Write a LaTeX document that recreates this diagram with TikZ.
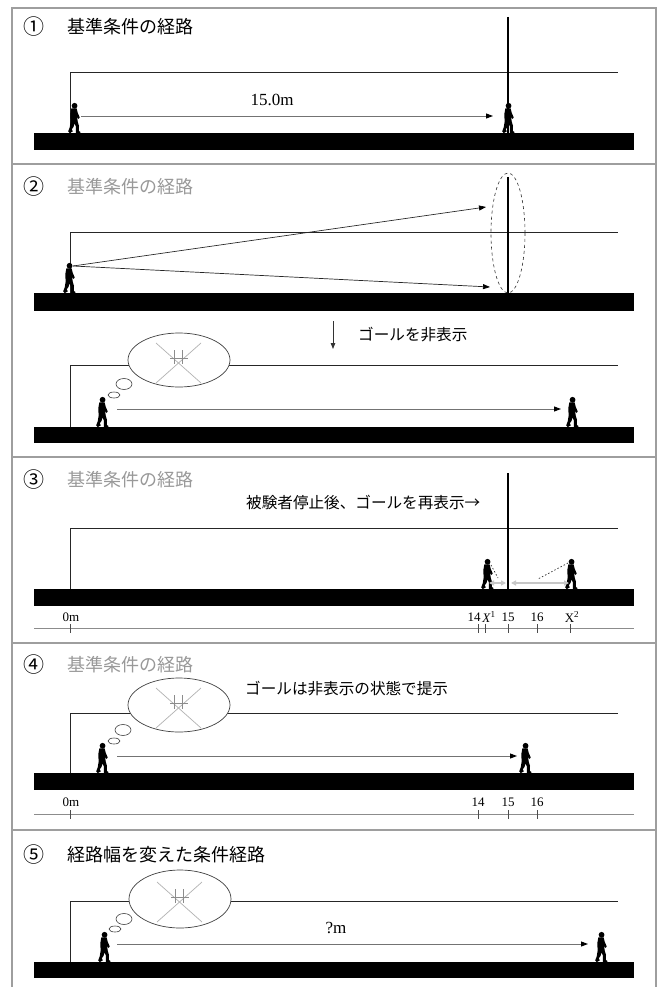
\documentclass[tikz,border=0pt]{standalone}
\usepackage{fontspec}
\setmainfont{Liberation Serif}
\newfontfamily\jpfont{Noto Sans CJK JP}
\usetikzlibrary{arrows.meta,shapes.geometric}

\tikzset{
  framerule/.style={draw=black!38, line width=1.3pt},
  wall/.style={draw=black!85, line width=0.9pt},
  floorbar/.style={fill=black},
  goalpole/.style={draw=black, line width=2.8pt},
  walkarrow/.style={draw=black!55, line width=0.9pt, -{Triangle[length=7pt,width=5pt,color=black]}},
  sightray/.style={draw=black!85, line width=0.7pt, -{Triangle[length=7pt,width=5pt,color=black]}},
  gaparrow/.style={draw=black!22, line width=1.6pt, {Triangle[length=5pt,width=5pt]}-{Triangle[length=5pt,width=5pt]}},
  lookline/.style={draw=black!80, line width=0.7pt, dash pattern=on 1.5pt off 2pt},
  scalebar/.style={draw=black!45, line width=0.8pt},
  scaletick/.style={draw=black!70, line width=0.6pt},
  numlabel/.style={font=\jpfont\fontsize{21}{21}\selectfont, inner sep=0pt},
  titlelabel/.style={font=\jpfont\fontsize{18}{18}\selectfont, inner sep=0pt, anchor=west},
  dimtitle/.style={titlelabel, text=black!40},
  notelabel/.style={font=\jpfont\fontsize{15.6}{16}\selectfont, inner sep=0pt, anchor=west},
  distlabel/.style={font=\fontsize{17}{17}\selectfont, inner sep=0pt},
  ticklabel/.style={font=\fontsize{13}{13}\selectfont, inner sep=0pt},
  thought/.style={ellipse, draw=black!75, line width=0.7pt, fill=white, inner sep=0pt,
                  minimum width=102pt, minimum height=54pt},
  puff/.style={ellipse, draw=black!75, line width=0.6pt, fill=white, inner sep=0pt},
  walker/.pic={
    \begin{scope}[xscale=1.2]
    \fill[black] (1.3,-27.2) ellipse [x radius=2.4, y radius=2.9];
    \fill[black] (-1.4,-24.6) -- (3.0,-24.6) -- (4.0,-20) -- (5.6,-15.5) -- (4.6,-14)
      -- (3.6,-16) -- (3.8,-12) -- (5.0,-7) -- (4.8,-2.2) -- (6.2,-1.0) -- (6.0,0.3)
      -- (2.4,0.3) -- (2.4,-6.5) -- (1.2,-9.5) -- (0.4,-6) -- (-1.0,-3.8) -- (-0.2,-1.6)
      -- (-2.8,0.2) -- (-4.0,-1.8) -- (-2.8,-5.2) -- (-2.0,-11) -- (-2.2,-19) -- cycle;
    \end{scope}
  },
  hiddengoal/.pic={
    \draw[black!30, line width=0.7pt] (-23,-17) -- (22,23) (22,-17) -- (-23,23);
    \draw[black!45, line width=0.7pt] (-5,-10) -- (-5,4) (3,-10) -- (3,4) (-9,-2) -- (9,-2);
  }
}

\begin{document}
\begin{tikzpicture}[x=1pt,y=-1pt]
\useasboundingbox (0,0) rectangle (659,987);
\fill[white] (0,0) rectangle (659,987);

% outer frame and panel dividers
\draw[framerule] (12,987) -- (12,8) -- (656,8) -- (656,987);
\foreach \yy in {164,457,643,830} \draw[framerule] (12,\yy) -- (656,\yy);

%------------------------------------------------ panel 1
\node[numlabel] (n1) at (34,27) {①};
\node[titlelabel] (t1) at (67,27) {基準条件の経路};
\draw[wall] (70,133) -- (70,72) -- (618,72);
\fill[floorbar] (34,133) rectangle (634,150);
\draw[goalpole] (508,17) -- (508,133);
\pic at (73,133) {walker};
\pic at (507,133) {walker};
\coordinate (p1s) at (81,116);
\coordinate (p1e) at (493,116);
\draw[walkarrow] (p1s) -- (p1e);
\node[distlabel] (d1) at (272,100) {15.0m};

%------------------------------------------------ panel 2
\node[numlabel] (n2) at (34,187) {②};
\node[dimtitle] (t2) at (67,187) {基準条件の経路};
\draw[wall] (70,293) -- (70,232) -- (618,232);
\fill[floorbar] (34,293) rectangle (634,311);
\draw[goalpole] (508,177) -- (508,293);
\node[ellipse, draw=black!80, dashed, line width=0.6pt, minimum width=34pt, minimum height=120pt] (gz) at (508,233) {};
\pic at (68,293) {walker};
\coordinate (eye2) at (73,266);
\coordinate (r2a) at (486,207);
\coordinate (r2b) at (490,287);
\draw[sightray] (eye2) -- (r2a);
\draw[sightray] (eye2) -- (r2b);

\coordinate (h2s) at (333,321);
\coordinate (h2e) at (333,349);
\draw[draw=black!80, line width=0.8pt, -{Triangle[length=6pt,width=4.5pt]}] (h2s) -- (h2e);
\node[notelabel] (hide2) at (358,335) {ゴールを非表示};

\draw[wall] (70,427) -- (70,365) -- (618,365);
\fill[floorbar] (34,427) rectangle (634,443);
\node[thought] (b2) at (179,360) {};
\pic at (b2.center) {hiddengoal};
\node[puff, minimum width=16pt, minimum height=11pt] (b2a) at (124,384) {};
\node[puff, minimum width=12pt, minimum height=6pt] (b2b) at (114,395) {};
\pic at (101,427) {walker};
\pic at (571,427) {walker};
\coordinate (p2s) at (117,409);
\coordinate (p2e) at (561,409);
\draw[walkarrow] (p2s) -- (p2e);

%------------------------------------------------ panel 3
\node[numlabel] (n3) at (34,480) {③};
\node[dimtitle] (t3) at (67,480) {基準条件の経路};
\node[notelabel] (show3) at (246,502) {被験者停止後、ゴールを再表示→};
\draw[wall] (70,589) -- (70,528) -- (618,528);
\fill[floorbar] (34,589) rectangle (634,606);
\draw[goalpole] (508,473) -- (508,589);
\pic at (486,589) {walker};
\pic at (570,589) {walker};
\coordinate (g1a) at (489,583);
\coordinate (g1b) at (506,583);
\coordinate (g2a) at (511,583);
\coordinate (g2b) at (569,583);
\draw[gaparrow] (g1a) -- (g1b);
\draw[gaparrow] (g2a) -- (g2b);
\coordinate (eye3a) at (491,565);
\coordinate (look3a) at (498,578);
\coordinate (eye3b) at (568,563);
\coordinate (look3b) at (538,579);
\draw[lookline] (eye3a) -- (look3a);
\draw[lookline] (eye3b) -- (look3b);

\draw[scalebar] (34,628) -- (634,628);
\foreach \xx in {70,478,485,508,537,570} \draw[scaletick] (\xx,624) -- (\xx,633);
\node[ticklabel] (s3a) at (71,617) {0m};
\node[ticklabel] (s3b) at (474,617) {14};
\node[ticklabel] (s3c) at (489,617) {\textit{X}\textsuperscript{1}};
\node[ticklabel] (s3d) at (508,617) {15};
\node[ticklabel] (s3e) at (537,617) {16};
\node[ticklabel] (s3f) at (572,617) {X\textsuperscript{2}};

%------------------------------------------------ panel 4
\node[numlabel] (n4) at (34,665) {④};
\node[dimtitle] (t4) at (67,665) {基準条件の経路};
\node[notelabel] (hide4) at (245,689) {ゴールは非表示の状態で提示};
\draw[wall] (70,773) -- (70,713) -- (618,713);
\fill[floorbar] (34,773) rectangle (634,790);
\node[thought] (b4) at (179,705) {};
\pic at (b4.center) {hiddengoal};
\node[puff, minimum width=16pt, minimum height=11pt] (b4a) at (123,730) {};
\node[puff, minimum width=12pt, minimum height=6pt] (b4b) at (114,741) {};
\pic at (101,773) {walker};
\pic at (524,773) {walker};
\coordinate (p4s) at (117,756);
\coordinate (p4e) at (517,756);
\draw[walkarrow] (p4s) -- (p4e);

\draw[scalebar] (34,814) -- (634,814);
\foreach \xx in {70,478,508,537} \draw[scaletick] (\xx,810) -- (\xx,819);
\node[ticklabel] (s4a) at (71,802) {0m};
\node[ticklabel] (s4b) at (478,802) {14};
\node[ticklabel] (s4c) at (508,802) {15};
\node[ticklabel] (s4d) at (537,802) {16};

%------------------------------------------------ panel 5
\node[numlabel] (n5) at (34,855) {⑤};
\node[titlelabel] (t5) at (67,855) {経路幅を変えた条件経路};
\draw[wall] (70,962) -- (70,901) -- (618,901);
\fill[floorbar] (34,962) rectangle (634,978);
\node[thought, minimum height=58pt] (b5) at (180,899) {};
\pic at (b5.center) {hiddengoal};
\node[puff, minimum width=16pt, minimum height=11pt] (b5a) at (124,919) {};
\node[puff, minimum width=12pt, minimum height=6pt] (b5b) at (115,929) {};
\pic at (103,962) {walker};
\pic at (600,962) {walker};
\coordinate (p5s) at (117,944);
\coordinate (p5e) at (588,944);
\draw[walkarrow] (p5s) -- (p5e);
\node[distlabel] (d5) at (336,928) {?m};

\end{tikzpicture}
\end{document}
